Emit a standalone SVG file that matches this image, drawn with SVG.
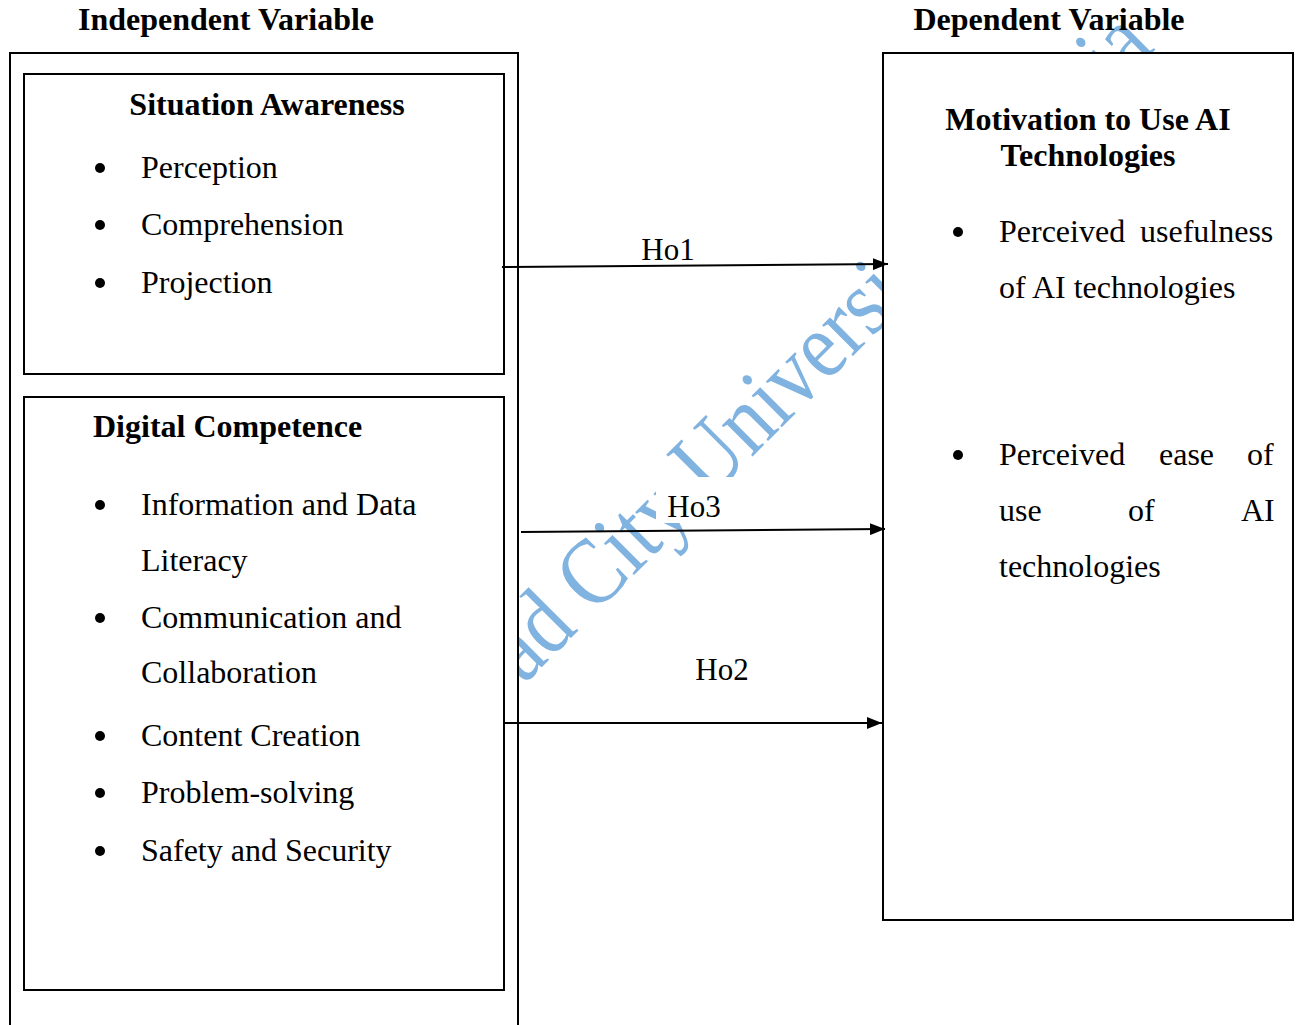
<svg xmlns="http://www.w3.org/2000/svg" width="1297" height="1025" viewBox="0 0 1297 1025">
<style>
text{font-family:"Liberation Serif","Times New Roman",serif;fill:#000}
.h{font-weight:bold;font-size:32px}
.t{font-size:32px}
.lbl{font-size:31px}
.box{fill:#fff;stroke:#000;stroke-width:2}
.wm{fill:#80b3e0;font-size:95px}
.conn line{stroke:#000;stroke-width:2;marker-end:url(#ah)}
.dot{fill:#000}
</style>
<defs>
<marker id="ah" markerUnits="userSpaceOnUse" markerWidth="15" markerHeight="12" refX="15" refY="6" orient="auto">
<path d="M0,0 L15,6 L0,12 z" fill="#000"/>
</marker>
</defs>
<rect x="0" y="0" width="1297" height="1025" fill="#fff"/>
<g id="watermark">
<text class="wm" transform="translate(524,685) rotate(-45) scale(0.87,1)">ad City Universi</text>
<text class="wm" transform="translate(1114,91) rotate(-45) scale(0.87,1)">ia</text>
</g>
<g id="independent">
<rect class="box" x="10" y="53" width="508" height="1010"/>
<text class="h" x="226" y="30" text-anchor="middle">Independent Variable</text>
</g>
<g id="situation-awareness">
<rect class="box" x="24" y="74" width="480" height="300"/>
<text class="h" x="267" y="115" text-anchor="middle">Situation Awareness</text>
<circle class="dot" cx="100" cy="168" r="5"/>
<text class="t" x="141" y="178">Perception</text>
<circle class="dot" cx="100" cy="225" r="5"/>
<text class="t" x="141" y="235">Comprehension</text>
<circle class="dot" cx="100" cy="283" r="5"/>
<text class="t" x="141" y="293">Projection</text>
</g>
<g id="digital-competence">
<rect class="box" x="24" y="397" width="480" height="593"/>
<text class="h" x="93" y="437">Digital Competence</text>
<circle class="dot" cx="100" cy="505" r="5"/>
<text class="t" x="141" y="515">Information and Data</text>
<text class="t" x="141" y="571">Literacy</text>
<circle class="dot" cx="100" cy="618" r="5"/>
<text class="t" x="141" y="628">Communication and</text>
<text class="t" x="141" y="683">Collaboration</text>
<circle class="dot" cx="100" cy="736" r="5"/>
<text class="t" x="141" y="746">Content Creation</text>
<circle class="dot" cx="100" cy="793" r="5"/>
<text class="t" x="141" y="803">Problem-solving</text>
<circle class="dot" cx="100" cy="851" r="5"/>
<text class="t" x="141" y="861">Safety and Security</text>
</g>
<g id="dependent">
<rect class="box" x="883" y="53" width="410" height="867"/>
<text class="h" x="1049" y="30" text-anchor="middle">Dependent Variable</text>
<text class="h" x="1088" y="130" text-anchor="middle">Motivation to Use AI</text>
<text class="h" x="1088" y="166" text-anchor="middle">Technologies</text>
<circle class="dot" cx="958" cy="232" r="5"/>
<text class="t" y="242"><tspan x="999">Perceived</tspan><tspan x="1140">usefulness</tspan></text>
<text class="t" x="999" y="298">of AI technologies</text>
<circle class="dot" cx="958" cy="455" r="5"/>
<text class="t" y="465"><tspan x="999">Perceived</tspan><tspan x="1159">ease</tspan><tspan x="1247">of</tspan></text>
<text class="t" y="521"><tspan x="999">use</tspan><tspan x="1128">of</tspan><tspan x="1241">AI</tspan></text>
<text class="t" x="999" y="577">technologies</text>
</g>
<g id="connectors">
<rect x="656" y="477" width="210" height="46" fill="#fff"/>
<g class="conn">
<line x1="502" y1="267" x2="888" y2="264"/>
<line x1="521" y1="532" x2="885" y2="529"/>
<line x1="504" y1="723" x2="882" y2="723"/>
</g>
<text class="lbl" x="668" y="260" text-anchor="middle">Ho1</text>
<text class="lbl" x="694" y="517" text-anchor="middle">Ho3</text>
<text class="lbl" x="722" y="680" text-anchor="middle">Ho2</text>
</g>
</svg>
